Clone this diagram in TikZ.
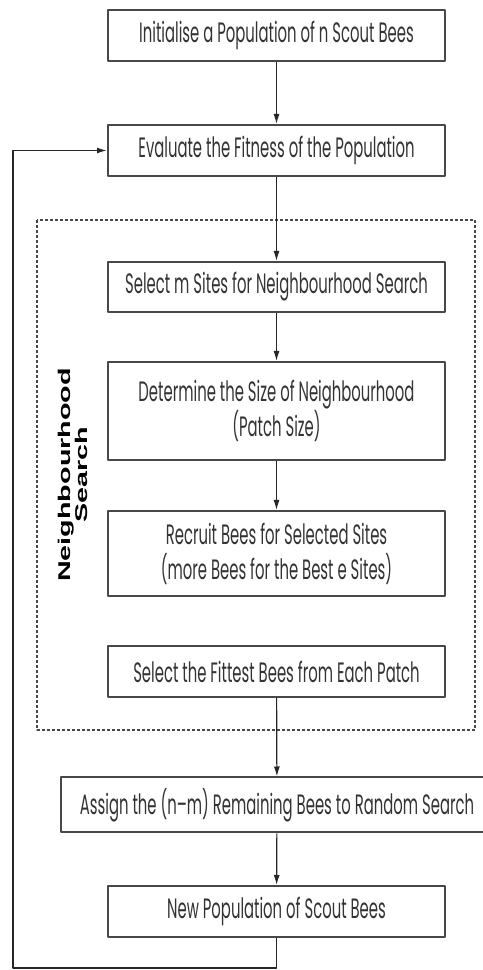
\documentclass[tikz,border=0pt]{standalone}
\usepackage{fontspec}
\usetikzlibrary{arrows.meta}
\newfontfamily\boxfont[FakeStretch=0.53]{Poppins}
\newfontfamily\labfont[FakeStretch=1.69]{Liberation Sans}
\definecolor{boxgray}{HTML}{484848}
\definecolor{txtgray}{HTML}{333333}

\begin{document}
\begin{tikzpicture}[>={Latex[length=10bp,width=6bp]},line join=bevel,
  stepbox/.style={draw=boxgray,line width=2bp,text=txtgray,minimum width=337bp,minimum height=51bp,inner sep=0pt,align=center,font=\boxfont\fontsize{28bp}{35bp}\selectfont},
  link/.style={black!85,line width=1.2bp}]
\useasboundingbox (0bp,0bp) rectangle (483bp,970bp);
%%
\node (node_init) at (276.5bp,934.5bp) [stepbox] {Initialise a Population of n Scout Bees};
  \node (node_eval) at (276.5bp,819.5bp) [stepbox] {Evaluate the Fitness of the Population};
  \node (node_select) at (276.5bp,683bp) [stepbox,minimum height=50bp] {Select m Sites for Neighbourhood Search};
  \node (node_size) at (276.5bp,559bp) [stepbox,minimum height=98bp] {Determine the Size of Neighbourhood\\(Patch Size)};
  \node (node_recruit) at (276.5bp,416.5bp) [stepbox,minimum height=85bp] {Recruit Bees for Selected Sites\\(more Bees for the Best e Sites)};
  \node (node_fittest) at (276.5bp,298.5bp) [stepbox] {Select the Fittest Bees from Each Patch};
  \node (node_random) at (277bp,165bp) [stepbox,minimum width=432bp,minimum height=55bp] {Assign the (n\textendash m) Remaining Bees to Random Search};
  \node (node_new) at (276.5bp,58.5bp) [stepbox] {New Population of Scout Bees};
  \node (node_label) at (73bp,495bp) [rotate=90,text=black,align=center,font=\labfont\bfseries\fontsize{17bp}{17bp}\selectfont] {Neighbourhood\\Search};
  \coordinate (loop_a) at (276.5bp,2bp);
  \coordinate (loop_b) at (13bp,2bp);
  \coordinate (loop_c) at (node_eval.west -| 13bp,0bp);
%
  \draw [boxgray,line width=1.2bp,dash pattern=on 3bp off 2bp] (37bp,750bp) rectangle (475bp,240bp);
  \draw [link,->] (node_init) -- (node_eval);
  \draw [link,->] (node_eval) -- (node_select);
  \draw [link,->] (node_select) -- (node_size);
  \draw [link,->] (node_size) -- (node_recruit);
  \draw [link,->] (node_fittest) -- (node_random);
  \draw [link,->] (node_random) -- (node_new);
  \draw [link,line width=1.6bp,->] (node_new) -- (loop_a) -- (loop_b) -- (loop_c) -- (node_eval.west);
%
\end{tikzpicture}
\end{document}
